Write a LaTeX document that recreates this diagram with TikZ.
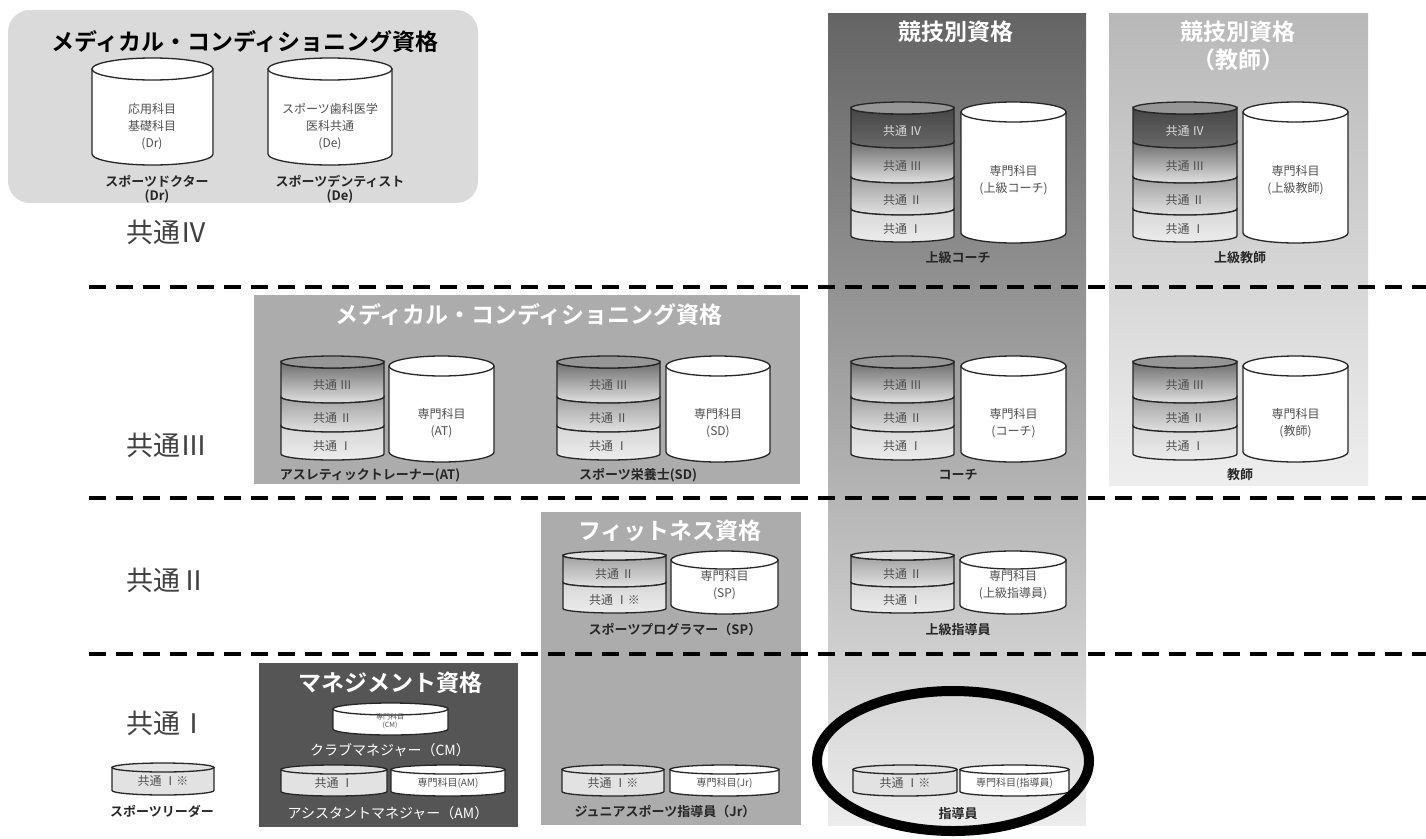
\documentclass[tikz,border=0pt]{standalone}
\usepackage{fontspec}
\setmainfont{Noto Sans CJK JP}[BoldFont={Noto Sans CJK JP Bold}]
\usepackage{tikz}

\definecolor{panelA}{RGB}{218,218,218}
\definecolor{panelB}{RGB}{172,172,172}
\definecolor{panelC}{RGB}{85,85,85}
\definecolor{coachtop}{RGB}{100,100,100}
\definecolor{coachbot}{RGB}{236,236,236}
\definecolor{teachtop}{RGB}{184,184,184}
\definecolor{teachbot}{RGB}{238,238,238}
\definecolor{bandIVt}{RGB}{70,70,70}
\definecolor{bandIVb}{RGB}{105,105,105}
\definecolor{bandIIIt}{RGB}{110,110,110}
\definecolor{bandIIIb}{RGB}{225,225,225}
\definecolor{bandIIt}{RGB}{160,160,160}
\definecolor{bandIIb}{RGB}{225,225,225}
\definecolor{bandIt}{RGB}{215,215,215}
\definecolor{bandIb}{RGB}{236,236,236}
\definecolor{stacktop}{RGB}{150,150,150}
\definecolor{bandI}{RGB}{226,226,226}
\definecolor{intext}{RGB}{80,80,80}

% drum: x1, x2, top, bottom, y radius, fill
\newcommand{\drum}[6]{%
  \pgfmathsetmacro\dcx{(#1+#2)/2}
  \pgfmathsetmacro\drx{(#2-#1)/2}
  \pgfmathsetmacro\dya{#3+#5}
  \pgfmathsetmacro\dyb{#4-#5}
  \filldraw[drum,fill=#6] (#1,\dya) -- (#1,\dyb)
    arc[start angle=180,end angle=360,x radius=\drx pt,y radius=#5pt]
    -- (#2,\dya) -- cycle;
  \filldraw[drum,fill=#6] (\dcx,\dya) ellipse[x radius=\drx pt,y radius=#5pt];
}
% band of a stacked drum: x1, x2, upper, lower, y radius, top colour, bottom colour
\newcommand{\band}[7]{%
  \pgfmathsetmacro\drx{(#2-#1)/2}
  \pgfmathsetmacro\dya{#3-#5}
  \pgfmathsetmacro\dyb{#4-#5}
  \draw[drum,top color=#6,bottom color=#7] (#1,\dya)
    arc[start angle=180,end angle=360,x radius=\drx pt,y radius=#5pt]
    -- (#2,\dyb)
    arc[start angle=0,end angle=-180,x radius=\drx pt,y radius=#5pt]
    -- cycle;
}
\newcommand{\drumtop}[5]{%
  \pgfmathsetmacro\dcx{(#1+#2)/2}
  \pgfmathsetmacro\drx{(#2-#1)/2}
  \pgfmathsetmacro\dya{#3+#4}
  \filldraw[drum,fill=#5] (\dcx,\dya) ellipse[x radius=\drx pt,y radius=#4pt];
}

\begin{document}
\begin{tikzpicture}[x=1pt,y=-1pt,
    drum/.style={line width=1.3pt,draw=black!85},
    ttl/.style={font=\fontsize{23}{28}\selectfont\bfseries,text=white,align=center,inner sep=0pt},
    lbl/.style={font=\fontsize{13}{14}\selectfont\bfseries,text=black!85,align=center,inner sep=0pt},
    intxt/.style={font=\fontsize{12}{17}\selectfont,text=intext,align=center,inner sep=0pt},
    subtxt/.style={font=\fontsize{10}{12}\selectfont,text=intext,align=center,inner sep=0pt},
    lvl/.style={font=\fontsize{27}{30}\selectfont,text=black!75,anchor=west,inner sep=0pt},
    sep/.style={line width=4.5pt,dash pattern=on 17pt off 10pt}]
    \useasboundingbox (0,0) rectangle (1426,838);

    % panels
    \fill[panelA,rounded corners=22pt] (8,10) rectangle (478,203);
    \shade[top color=coachtop,bottom color=coachbot] (828,13) rectangle (1086,825);
    \shade[top color=teachtop,bottom color=teachbot] (1109,13) rectangle (1368,485);
    \fill[panelB] (254,295) rectangle (800,484);
    \fill[panelB] (541,512) rectangle (801,825);
    \fill[panelC] (259,663) rectangle (518,827);

    \foreach \y in {287,498,654}
    \draw[sep] (89,\y)--(1426,\y);

    \node[ttl,text=black] (medTop) at (245,42) {メディカル・コンディショニング資格};
    \node[ttl] (medMid) at (529,315) {メディカル・コンディショニング資格};
    \node[ttl] (fitTtl) at (670,531) {フィットネス資格};
    \node[ttl] (mgmtTtl) at (390,683) {マネジメント資格};
    \node[ttl] (sportTtl) at (956,32) {競技別資格};
    \node[ttl] (teachTtl) at (1238,46) {競技別資格\\（教師）};

    \node[lvl] (lvIV) at (126,232) {共通Ⅳ};
    \node[lvl] (lvIII) at (126,445) {共通Ⅲ};
    \node[lvl] (lvII) at (126,580) {共通Ⅱ};
    \node[lvl] (lvI) at (126,723) {共通Ⅰ};

    % doctor / dentist
    \drum{92}{213}{58}{165}{11}{white}
    \drum{268}{392}{58}{165}{11}{white}
    \node[intxt] (drIn) at (152,127) {応用科目\\基礎科目\\(Dr)};
    \node[intxt] (deIn) at (330,127) {スポーツ歯科医学\\医科共通\\(De)};
    \node[lbl] (drLbl) at (157,189) {スポーツドクター\\(Dr)};
    \node[lbl] (deLbl) at (340,189) {スポーツデンティスト\\(De)};

    % level IV stacks
    \foreach \a/\b/\c/\d/\t/\l [count=\i] in {851/954/961/1066/上級コーチ/958,
        1133/1237/1243/1348/上級教師/1240}{
      \band{\a}{\b}{114}{148}{6}{bandIVt}{bandIVb}
      \band{\a}{\b}{148}{183}{6}{bandIIIt}{bandIIIb}
      \band{\a}{\b}{183}{215}{6}{bandIIt}{bandIIb}
      \band{\a}{\b}{215}{242}{6}{bandIt}{bandIb}
      \drumtop{\a}{\b}{102}{6}{stacktop}
      \drum{\c}{\d}{102}{243}{10}{white}
      \node[intxt,text=white!85!black] (fourA\i) at ({(\a+\b)/2},131) {共通 Ⅳ};
      \node[intxt] (fourB\i) at ({(\a+\b)/2},166) {共通 Ⅲ};
      \node[intxt] (fourC\i) at ({(\a+\b)/2},200) {共通 Ⅱ};
      \node[intxt] (fourD\i) at ({(\a+\b)/2},229) {共通 Ⅰ};
      \node[intxt] (fourE\i) at ({(\c+\d)/2},180) {専門科目\\(\t)};
      \node[lbl] (fourL\i) at (\l,258) {\t};
    }

    % level III stacks
    \foreach \a/\b/\c/\d/\t/\n/\l [count=\i] in {281/384/389/494/AT/アスレティックトレーナー(AT)/370,
        557/660/666/770/SD/スポーツ栄養士(SD)/638,
        851/954/961/1066/コーチ/コーチ/958,
        1133/1237/1243/1348/教師/教師/1240}{
      \band{\a}{\b}{368}{403}{6}{bandIIIt}{bandIIIb}
      \band{\a}{\b}{403}{432}{6}{bandIIt}{bandIIb}
      \band{\a}{\b}{432}{460}{6}{bandIt}{bandIb}
      \drumtop{\a}{\b}{356}{6}{stacktop}
      \drum{\c}{\d}{356}{462}{10}{white}
      \node[intxt] (threeB\i) at ({(\a+\b)/2},385) {共通 Ⅲ};
      \node[intxt] (threeC\i) at ({(\a+\b)/2},418) {共通 Ⅱ};
      \node[intxt] (threeD\i) at ({(\a+\b)/2},446) {共通 Ⅰ};
      \node[intxt] (threeE\i) at ({(\c+\d)/2},423) {専門科目\\(\t)};
      \node[lbl] (threeL\i) at (\l,475) {\n};
    }

    % level II stacks
    \foreach \a/\b/\c/\d/\t/\n/\l/\u [count=\i] in {563/666/671/778/SP/スポーツプログラマー（SP）/675/共通 Ⅰ※,
        851/954/960/1066/上級指導員/上級指導員/958/共通 Ⅰ}{
      \band{\a}{\b}{560}{587}{4.5}{bandIIt}{bandIIb}
      \band{\a}{\b}{587}{613}{4.5}{bandIt}{bandIb}
      \drumtop{\a}{\b}{551}{4.5}{bandIIb}
      \drum{\c}{\d}{551}{614}{9}{white}
      \node[intxt] (twoC\i) at ({(\a+\b)/2},574) {共通 Ⅱ};
      \node[intxt] (twoD\i) at ({(\a+\b)/2},600) {\u};
      \node[intxt] (twoE\i) at ({(\c+\d)/2},585) {専門科目\\(\t)};
      \node[lbl] (twoL\i) at (\l,630) {\n};
    }

    % level I
    \drum{333}{448}{703}{735}{6}{white}
    \node[intxt,font=\fontsize{7}{8}\selectfont] (cmIn) at (390,721) {専門科目\\(CM)};
    \node[lbl,text=white,font=\fontsize{14}{15}\selectfont] (cmLbl) at (390,750) {クラブマネジャー（CM）};
    \foreach \a/\b/\c/\d/\u/\t [count=\i] in {281/387/391/505/共通 Ⅰ/専門科目(AM),
        562/664/670/779/共通 Ⅰ※/専門科目(Jr),
        853/957/960/1069/共通 Ⅰ※/専門科目(指導員)}{
      \drum{\a}{\b}{765}{796}{4.5}{bandI}
      \drum{\c}{\d}{765}{796}{4.5}{white}
      \node[intxt] (oneD\i) at ({(\a+\b)/2},783) {\u};
      \node[subtxt] (oneE\i) at ({(\c+\d)/2},783) {\t};
    }
    \node[lbl,text=white,font=\fontsize{14}{15}\selectfont] (amLbl) at (388,813) {アシスタントマネジャー（AM）};
    \node[lbl] (jrLbl) at (665,812) {ジュニアスポーツ指導員（Jr）};
    \node[lbl] (instLbl) at (958,814) {指導員};

    \drum{112}{214}{763}{795}{4.5}{bandI}
    \node[intxt] (ldrIn) at (163,781) {共通 Ⅰ※};
    \node[lbl] (ldrLbl) at (162,811) {スポーツリーダー};

    \draw[line width=10pt] (953,761) ellipse[x radius=136pt,y radius=70pt];
\end{tikzpicture}
\end{document}
